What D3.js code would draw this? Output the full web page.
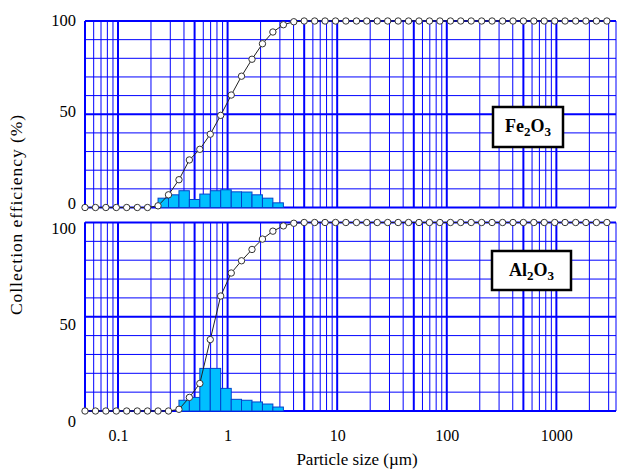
<!DOCTYPE html>
<meta charset="utf-8">
<style>
body { margin: 0; background: #fff; }
text { font-family: "Liberation Serif", "Times New Roman", serif; fill: #000; }
</style>
<div id="chart"></div>
<script src="https://d3js.org/d3.v7.min.js"></script>
<script>

// particle size channels (um)
var sizes = [0.05, 0.0623, 0.0775, 0.0965, 0.120, 0.150, 0.186, 0.232, 0.289, 0.360,
  0.448, 0.558, 0.695, 0.865, 1.08, 1.34, 1.67, 2.08, 2.59, 3.23,
  4.02, 5.00, 6.23, 7.75, 9.66, 12.0, 15.0, 18.6, 23.2, 28.9,
  36.0, 44.8, 55.8, 69.5, 86.5, 108, 134, 167, 208, 259,
  323, 402, 500, 623, 775, 966, 1200, 1500, 1860, 2320, 2890];

// collection efficiency (%)
var feEff = [0, 0, 0, 0, 0, 0, 0, 0.9, 6.8, 14.9,
  25.5, 31.2, 39.3, 49.4, 60.3, 70.4, 79.5, 87.8, 94.1, 98.0,
  99.6, 100, 100, 100, 100, 100, 100, 100, 100, 100,
  100, 100, 100, 100, 100, 100, 100, 100, 100, 100,
  100, 100, 100, 100, 100, 100, 100, 100, 100, 100, 100];
var alEff = [0, 0, 0, 0, 0, 0, 0, 0, 0, 0.9,
  7.2, 14.6, 37.9, 61.0, 73.2, 79.7, 85.7, 91.2, 95.4, 98.2,
  99.6, 100, 100, 100, 100, 100, 100, 100, 100, 100,
  100, 100, 100, 100, 100, 100, 100, 100, 100, 100,
  100, 100, 100, 100, 100, 100, 100, 100, 100, 100, 100];

// size distribution bars (%), bar j spans sizes[start+j] .. sizes[start+j+1]
var feBars = [5.0, 6.8, 9.0, 4.3, 7.2, 9.0, 9.5, 8.4, 8.3, 6.8, 5.0, 2.5];
var feBarStart = 7;
var alBars = [5.7, 7.2, 22.6, 22.6, 12.0, 6.2, 5.7, 4.8, 3.7, 2.1];
var alBarStart = 9;

var xTicks = [0.1, 1, 10, 100, 1000];
var yTicks = [0, 50, 100];

var W = 622, H = 470;
var svg = d3.select("#chart").append("svg").attr("width", W).attr("height", H);

var x = d3.scaleLog().domain([0.05, 3500]).range([85, 616]);

var panels = [
  {eff: feEff, bars: feBars, start: feBarStart, y0: 207.5, y1: 21, ly0: 203, ly1: 20,
   formula: ["Fe", "2", "O", "3"], box: [493, 107, 70, 40]},
  {eff: alEff, bars: alBars, start: alBarStart, y0: 411, y1: 222.5, ly0: 421, ly1: 228,
   formula: ["Al", "2", "O", "3"], box: [492, 251, 79, 39]}
];

// vertical grid values
var gridX = [];
for (var e = -2; e <= 3; e++) {
  for (var k = 1; k <= 9; k++) {
    var v = k * Math.pow(10, e);
    if (v >= 0.05 && v <= 3500) gridX.push({v: v, major: k === 1 || k === 5});
  }
}
var gridY = d3.range(0, 101, 10);

panels.forEach(function(p) {
  var y = d3.scaleLinear().domain([0, 100]).range([p.y0, p.y1]);
  var g = svg.append("g");

  g.selectAll(".vg").data(gridX).enter().append("line")
      .attr("x1", function(d) { return x(d.v); })
      .attr("x2", function(d) { return x(d.v); })
      .attr("y1", y(0)).attr("y2", y(100))
      .attr("stroke", "#0000ff")
      .attr("stroke-width", function(d) { return d.major ? 2 : 1; });

  g.selectAll(".hg").data(gridY).enter().append("line")
      .attr("x1", x.range()[0]).attr("x2", x.range()[1])
      .attr("y1", function(d) { return y(d); })
      .attr("y2", function(d) { return y(d); })
      .attr("stroke", "#0000ff")
      .attr("stroke-width", function(d) { return d % 50 === 0 ? 2 : 1; });

  // frame
  g.append("line").attr("x1", x.range()[0]).attr("x2", x.range()[0])
      .attr("y1", y(0)).attr("y2", y(100)).attr("stroke", "#0000ff").attr("stroke-width", 2);
  g.append("line").attr("x1", x.range()[1]).attr("x2", x.range()[1])
      .attr("y1", y(0)).attr("y2", y(100)).attr("stroke", "#0000ff").attr("stroke-width", 1);

  // bars
  g.selectAll(".bar").data(p.bars).enter().append("rect")
      .attr("x", function(d, j) { return x(sizes[p.start + j]); })
      .attr("width", function(d, j) { return x(sizes[p.start + j + 1]) - x(sizes[p.start + j]); })
      .attr("y", function(d) { return y(d); })
      .attr("height", function(d) { return y(0) - y(d); })
      .attr("fill", "#00bfff")
      .attr("stroke", "#0044cc")
      .attr("stroke-width", 1);

  // efficiency curve
  var line = d3.line()
      .x(function(d, i) { return x(sizes[i]); })
      .y(function(d) { return y(d); });
  g.append("path").datum(p.eff)
      .attr("d", line)
      .attr("fill", "none")
      .attr("stroke", "#222")
      .attr("stroke-width", 1);
  g.selectAll(".pt").data(p.eff).enter().append("circle")
      .attr("cx", function(d, i) { return x(sizes[i]); })
      .attr("cy", function(d) { return y(d); })
      .attr("r", 3.2)
      .attr("fill", "#fff")
      .attr("stroke", "#333")
      .attr("stroke-width", 1);

  // y tick labels
  var ly = d3.scaleLinear().domain([0, 100]).range([p.ly0, p.ly1]);
  var ax = svg.append("g")
      .attr("transform", "translate(76,0)")
      .call(d3.axisLeft(ly).tickValues(yTicks).tickSize(0).tickPadding(0));
  ax.select(".domain").remove();
  ax.selectAll("text")
      .style("font-family", '"Liberation Serif", "Times New Roman", serif')
      .style("font-size", "16.5px")
      .attr("fill", "#000");

  // formula box
  var b = p.box;
  g.append("rect")
      .attr("x", b[0]).attr("y", b[1]).attr("width", b[2]).attr("height", b[3])
      .attr("fill", "#fff").attr("stroke", "#000").attr("stroke-width", 2.5);
  var t = g.append("text")
      .attr("x", b[0] + b[2] / 2).attr("y", b[1] + b[3] / 2 + 5)
      .attr("text-anchor", "middle")
      .style("font-size", "18px").style("font-weight", "bold");
  p.formula.forEach(function(s, i) {
    var ts = t.append("tspan").text(s);
    if (i % 2 === 1) ts.attr("baseline-shift", "-30%").style("font-size", "13px");
  });
});

// x tick labels
var xa = svg.append("g")
    .attr("transform", "translate(0,426)")
    .call(d3.axisBottom(x).tickValues(xTicks).tickFormat(function(d) { return String(d); })
      .tickSize(0).tickPadding(4));
xa.select(".domain").remove();
xa.selectAll("text")
    .style("font-family", '"Liberation Serif", "Times New Roman", serif')
    .style("font-size", "16px")
    .attr("fill", "#000");

svg.append("text")
    .attr("x", 357).attr("y", 465)
    .attr("text-anchor", "middle")
    .style("font-size", "17px")
    .text("Particle size (\u00b5m)");

svg.append("text")
    .attr("transform", "translate(22,215) rotate(-90)")
    .attr("text-anchor", "middle")
    .attr("textLength", 200)
    .attr("lengthAdjust", "spacing")
    .style("font-size", "17.5px")
    .text("Collection efficiency (%)");

</script>
